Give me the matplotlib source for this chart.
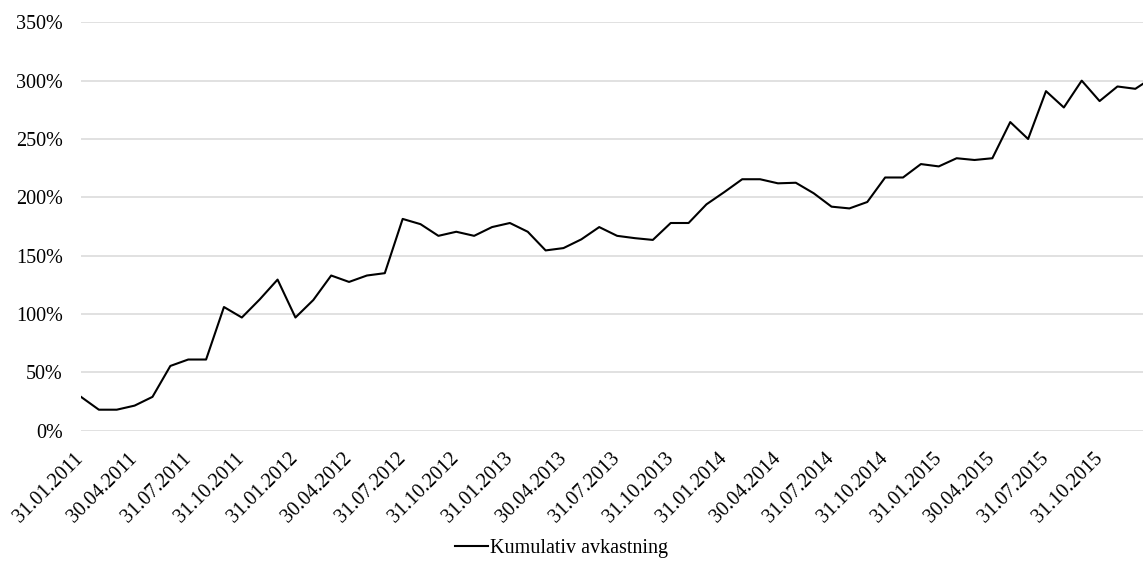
import matplotlib
matplotlib.use("Agg")
import matplotlib.pyplot as plt
from matplotlib.ticker import PercentFormatter

# Kumulativ avkastning, month-end values in percent (31.01.2011 -> 31.01.2016)
months = list(range(61))
cum_return = [29, 18, 18, 21.5, 29, 55.5, 61, 61, 106, 97,
              112.5, 129.5, 97, 112, 133, 127.5, 133, 135, 181.5, 177,
              167, 170.5, 167, 174.5, 178, 170.5, 154.5, 156.5, 164, 174.5,
              167, 165, 163.5, 178, 178, 194, 204.5, 215.5, 215.5, 212,
              212.5, 203.5, 192, 190.5, 196, 217, 217, 228.5, 226.5, 233.5,
              232, 233.5, 264.5, 250, 291, 277, 300, 282.5, 295, 293,
              303]

tick_labels = ['31.01.2011', '30.04.2011', '31.07.2011', '31.10.2011',
               '31.01.2012', '30.04.2012', '31.07.2012', '31.10.2012',
               '31.01.2013', '30.04.2013', '31.07.2013', '31.10.2013',
               '31.01.2014', '30.04.2014', '31.07.2014', '31.10.2014',
               '31.01.2015', '30.04.2015', '31.07.2015', '31.10.2015']
tick_pos = months[::3][:len(tick_labels)]

plt.rcParams['font.family'] = ['Liberation Serif', 'DejaVu Serif']
plt.rcParams['font.size'] = 14.5

fig = plt.figure(figsize=(11.43, 5.75), dpi=100)
ax = fig.add_axes([81 / 1143, 1 - 430.7 / 575, 1 - 81 / 1143, (430.7 - 22.3) / 575])

ax.plot(months, cum_return, color='black', linewidth=1.5,
        label='Kumulativ avkastning')

ax.set_xlim(0, (1143 - 81) / 17.87)
ax.set_ylim(0, 350)
ax.set_yticks(range(0, 351, 50))
ax.yaxis.set_major_formatter(PercentFormatter(decimals=0))

ax.set_xticks(tick_pos)
ax.set_xticklabels(tick_labels, rotation=45, ha='right', va='center',
                   rotation_mode='anchor')

ax.grid(axis='y', color='#d9d9d9', linewidth=1.1)
ax.set_axisbelow(True)
ax.tick_params(axis='both', length=0)
ax.tick_params(axis='y', pad=13)
ax.tick_params(axis='x', pad=18)
for s in ax.spines.values():
    s.set_visible(False)

fig.legend(loc='center left', bbox_to_anchor=(455 / 1143, 27 / 575),
           frameon=False, borderpad=0, borderaxespad=0,
           handlelength=1.65, handletextpad=0.1)

fig.savefig('out.png', dpi=100)
